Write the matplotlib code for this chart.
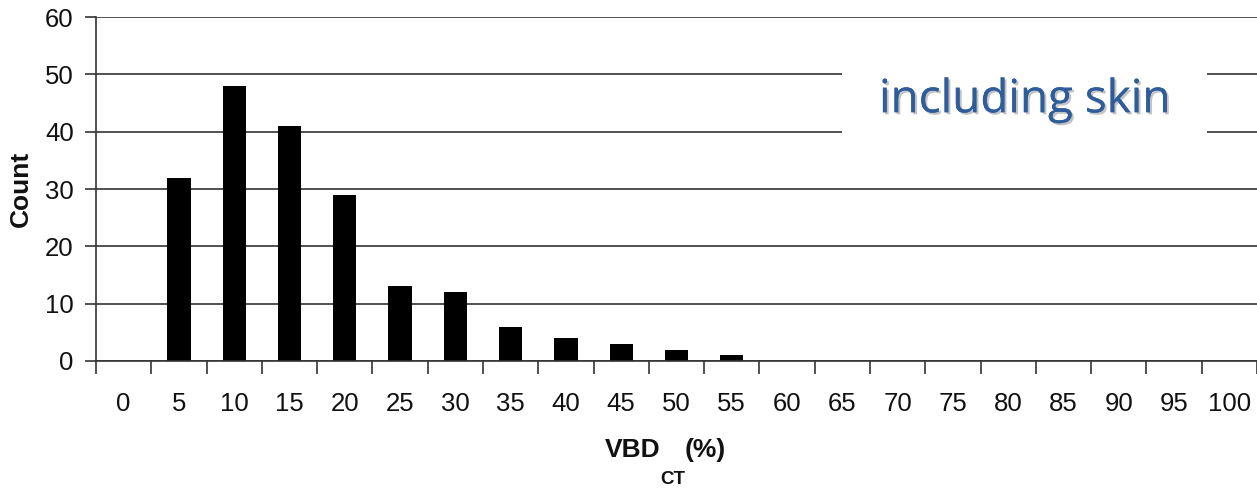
import matplotlib
matplotlib.use("Agg")
import matplotlib.pyplot as plt
import matplotlib.patheffects as pe
import numpy as np

# VBD_CT histogram (bin labels in %) and counts per bin
bins = [0, 5, 10, 15, 20, 25, 30, 35, 40, 45, 50, 55, 60, 65, 70, 75, 80, 85, 90, 95, 100]
counts = [0, 32, 48, 41, 29, 13, 12, 6, 4, 3, 2, 1, 0, 0, 0, 0, 0, 0, 0, 0, 0]
y_ticks = [0, 10, 20, 30, 40, 50, 60]

plt.rcParams['font.family'] = ['Liberation Sans', 'DejaVu Sans']

fig = plt.figure(figsize=(12.57, 4.90), dpi=100)
ax = fig.add_axes([96 / 1257, 1 - 361 / 490, 1 - 96 / 1257, (361 - 17) / 490])

pos = np.arange(len(bins))
ax.bar(pos, counts, width=0.42, color='black', zorder=3)

ax.set_xlim(-0.5, len(bins) - 0.5)
ax.set_ylim(0, 60)

# category boundaries carry the tick marks, labels sit at bin centres
ax.set_xticks(np.arange(-0.5, len(bins), 1.0))
ax.set_xticklabels([])
ax.set_xticks(pos, minor=True)
ax.set_xticklabels([str(b) for b in bins], minor=True)
ax.tick_params(axis='x', which='major', length=9, width=1.2, color='#333333', direction='out')
ax.tick_params(axis='x', which='minor', length=0, pad=22, labelsize=18.5, labelcolor='#111111')

ax.set_yticks(y_ticks)
ax.tick_params(axis='y', length=8, width=1.2, color='#333333', labelsize=18.5, pad=8,
               labelcolor='#111111')
ax.yaxis.grid(True, color='#333333', linewidth=1.2, zorder=0)
ax.set_axisbelow(True)

for side in ['top', 'right']:
    ax.spines[side].set_visible(False)
ax.spines['left'].set_color('#333333')
ax.spines['left'].set_linewidth(1.2)
ax.spines['bottom'].set_color('#333333')
ax.spines['bottom'].set_linewidth(1.2)
ax.spines['bottom'].set_zorder(4)

ax.set_ylabel('Count', fontsize=19, fontweight='bold', color='#111111', labelpad=9)

# x-axis title with subscript
fig.text(633 / 1257, 1 - 450 / 490, 'VBD', fontsize=19, fontweight='bold',
         ha='center', va='center', color='#111111')
fig.text(705 / 1257, 1 - 450 / 490, '(%)', fontsize=19, fontweight='bold',
         ha='center', va='center', color='#111111')
fig.text(673 / 1257, 1 - 479 / 490, 'CT', fontsize=13.5, fontweight='bold',
         ha='center', va='center', color='#111111')

# annotation panel over the gridlines
box = plt.Rectangle((842 / 1257, 1 - 135 / 490), (1207 - 842) / 1257, (135 - 62) / 490,
                    transform=fig.transFigure, facecolor='white', edgecolor='none', zorder=5)
fig.patches.append(box)
fig.text(1025 / 1257, 1 - 100 / 490, 'including skin', fontsize=33, family=['Open Sans', 'DejaVu Sans'],
         ha='center', va='center', color='#2f5c9a', zorder=6,
         path_effects=[pe.withSimplePatchShadow(offset=(1.5, -1.5), shadow_rgbFace='#888888', alpha=0.5),
                       pe.Normal()])

fig.savefig('out.png', dpi=100)
